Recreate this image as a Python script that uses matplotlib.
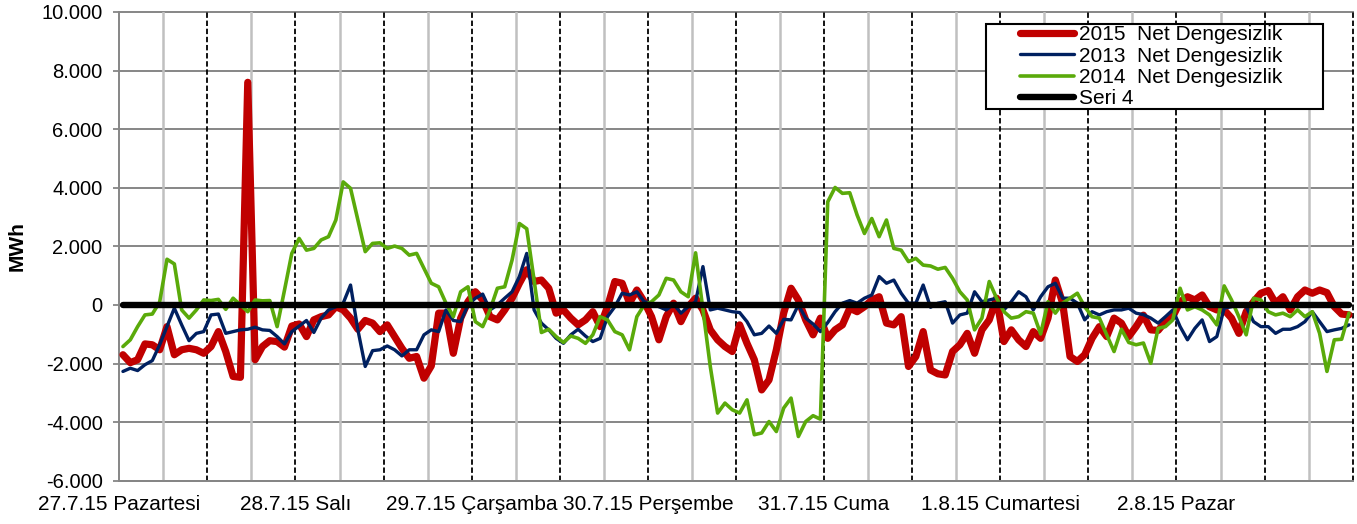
import numpy as np
import matplotlib
matplotlib.use("Agg")
import matplotlib.pyplot as plt
from matplotlib.patches import Rectangle

plt.rcParams['font.family'] = ['Liberation Sans', 'DejaVu Sans']

day_labels = ["27.7.15 Pazartesi", "28.7.15 Salı", "29.7.15 Çarşamba", "30.7.15 Perşembe",
              "31.7.15 Cuma", "1.8.15 Cumartesi", "2.8.15 Pazar"]

# hourly net imbalance, MWh (27.7 - 2.8)
net_2015 = [
    -1700, -1970, -1870, -1330, -1360, -1530, -740, -1700, -1530, -1480,
    -1530, -1650, -1420, -910, -1590, -2440, -2470, 7600, -1870, -1420,
    -1220, -1250, -1440, -720, -650, -1080, -510, -400,
    -340, -60, -170, -450, -830, -530, -620, -910, -680, -1080,
    -1480, -1820, -1760, -2500, -2080, -280, -280, -1650, -450, 110,
    450, 170, -400, -510, -170, 230, 740, 1200,
    800, 850, 570, -280, -170, -450, -680, -510, -230, -740,
    -60, 800, 740, 60, 510, 110, -400, -1190, -400, 60,
    -570, -60, 230, -170, -850, -1190, -1420, -1590,
    -680, -1310, -1870, -2900, -2560, -1530, -280, 570, 170, -510,
    -1020, -450, -1140, -850, -680, -110, -230, -60, 170, 280,
    -620, -680, -400, -2100, -1760, -910, -2220, -2350,
    -2390, -1590, -1360, -970, -1650, -850, -510, 230, -1250, -850,
    -1190, -1420, -910, -1140, -450, 850, 60, -1760, -1930, -1700,
    -1140, -740, -1080, -450, -620, -1080, -740, -350,
    -850, -870, -570, -400, 110, 280, 170, 340, -60, -170,
    -170, -450, -970, -230, 110, 400, 490, 60, 280, -170,
    280, 510, 400, 510, 420, -60, -310, -340,
]

net_2013 = [
    -2270, -2160, -2240, -2040, -1900, -1360, -740, -110, -680, -1220,
    -970, -910, -340, -310, -970, -910, -850, -830, -760, -850,
    -870, -1080, -1330, -910, -720, -530, -940, -450,
    -170, -60, 60, 680, -850, -2100, -1560, -1530, -1400, -1530,
    -1740, -1530, -1530, -1020, -850, -910, -170, -530, -570, 0,
    230, 370, -170, 0, 230, 450, 970, 1760,
    -170, -620, -850, -1140, -1310, -1020, -830, -1060, -1250, -1140,
    -400, -60, 400, 340, 450, 110, 60, -60, -170, 30,
    -280, -60, 110, 1310, -170, -110, -170, -230,
    -260, -570, -1020, -970, -720, -970, -490, -510, 0, -450,
    -650, -910, -600, -230, 60, 150, 60, 230, 340, 970,
    740, 850, 400, 60, 60, 680, -80, 60,
    110, -620, -340, -280, 450, 110, 170, 230, -170, 110,
    450, 280, -170, 280, 620, 740, 230, 230, 60, -510,
    -230, -340, -230, -170, -170, -110, -280, -330,
    -450, -620, -400, -170, -740, -1190, -800, -510, -1250, -1080,
    -110, -60, 0, -60, -570, -740, -740, -970, -830, -830,
    -740, -570, -230, -570, -910, -850, -800, -680,
]

net_2014 = [
    -1420, -1190, -740, -340, -310, 100, 1560, 1400, -170, -450,
    -170, 170, 150, 190, -150, 230, 0, -230, 170, 140,
    150, -740, 500, 1760, 2270, 1870, 1930, 2220,
    2330, 2900, 4200, 3980, 2900, 1820, 2100, 2120, 1930, 2010,
    1930, 1700, 1760, 1250, 740, 620, 60, -400, 450, 620,
    -570, -740, -170, 570, 620, 1530, 2780, 2600,
    850, -940, -830, -1080, -1280, -1060, -1140, -1310, -1020, -400,
    -510, -910, -1020, -1530, -400, 0, 110, 340, 910, 850,
    450, 280, 1780, -170, -2100, -3690, -3350, -3580,
    -3690, -3240, -4430, -4370, -3980, -4320, -3520, -3180, -4490, -3980,
    -3780, -3900, 3520, 4010, 3810, 3830, 3070, 2440, 2950, 2330,
    2900, 1930, 1870, 1480, 1590, 1360, 1330, 1220,
    1280, 910, 450, 170, -850, -450, 800, 230, -230, -450,
    -400, -230, -280, -990, 110, -280, 60, 230, 400, -60,
    -400, -450, -1020, -1590, -830, -1280, -1360, -1300,
    -1990, -800, -740, -510, 570, -170, -60, -170, -340, -680,
    650, 170, -400, -1020, 230, 170, -230, -340, -280, -400,
    -170, -400, -230, -970, -2270, -1190, -1170, -280,
]

seri_4 = [0] * len(net_2015)

hours = np.arange(len(net_2015)) + 0.5

fig = plt.figure(figsize=(13.57, 5.24), dpi=100)
ax = fig.add_axes([0.0879, 0.0826, 0.9089, 0.8945])

ax.set_xlim(0, 168)
ax.set_ylim(-6000, 10000)

# grid
yticks = list(range(-6000, 10001, 2000))
for y in yticks:
    ax.axhline(y, color='#868686', lw=1.4, zorder=1, clip_on=False)
for h in range(6, 168, 12):
    ax.axvline(h, color='#C0C0C0', lw=1.8, zorder=1)
for h in range(12, 169, 12):
    ax.axvline(h, color='black', lw=1.3, ls=(0, (3, 1.5)), zorder=2, clip_on=False)

kw = dict(solid_joinstyle='round', solid_capstyle='round')
ax.plot(hours, net_2015, color='#C00000', lw=5.2, zorder=3, label='2015  Net Dengesizlik', **kw)
ax.plot(hours, net_2013, color='#002060', lw=2.4, zorder=3, label='2013  Net Dengesizlik', **kw)
ax.plot(hours, net_2014, color='#5AAA0A', lw=2.6, zorder=3, label='2014  Net Dengesizlik', **kw)
ax.plot(hours, seri_4, color='black', lw=4.6, zorder=3, label='Seri 4', **kw)

for s in ['top', 'right']:
    ax.spines[s].set_visible(False)
for s in ['left', 'bottom']:
    ax.spines[s].set_color('#868686')
    ax.spines[s].set_linewidth(1.4)

ax.set_yticks(yticks)
ax.set_yticklabels([f"{v:,}".replace(',', '.') for v in yticks])
ax.set_xticks(range(0, 168, 24))
ax.set_xticklabels(day_labels)
ax.tick_params(axis='y', length=4, width=1.3, color='#868686', pad=8, labelsize=14.5)
ax.tick_params(axis='x', length=0, pad=10, labelsize=15)

fig.text(17 / 1357, 0.53, 'MWh', rotation=90, fontsize=15, fontweight='bold',
         ha='center', va='center')

# legend box
ax.add_patch(Rectangle((986 / 1357, 1 - 109 / 524), 337 / 1357, 85 / 524,
                       transform=fig.transFigure, facecolor='white', edgecolor='black',
                       lw=1.5, zorder=4, clip_on=False))
leg = ax.legend(loc='upper left', bbox_to_anchor=(1020 / 1357, 1 - 25 / 524),
                bbox_transform=fig.transFigure, frameon=False, borderpad=0,
                handlelength=2.6, handletextpad=0.25, labelspacing=0.12,
                fontsize=15, borderaxespad=0)
leg.set_zorder(5)

fig.savefig('out.png', dpi=100)
